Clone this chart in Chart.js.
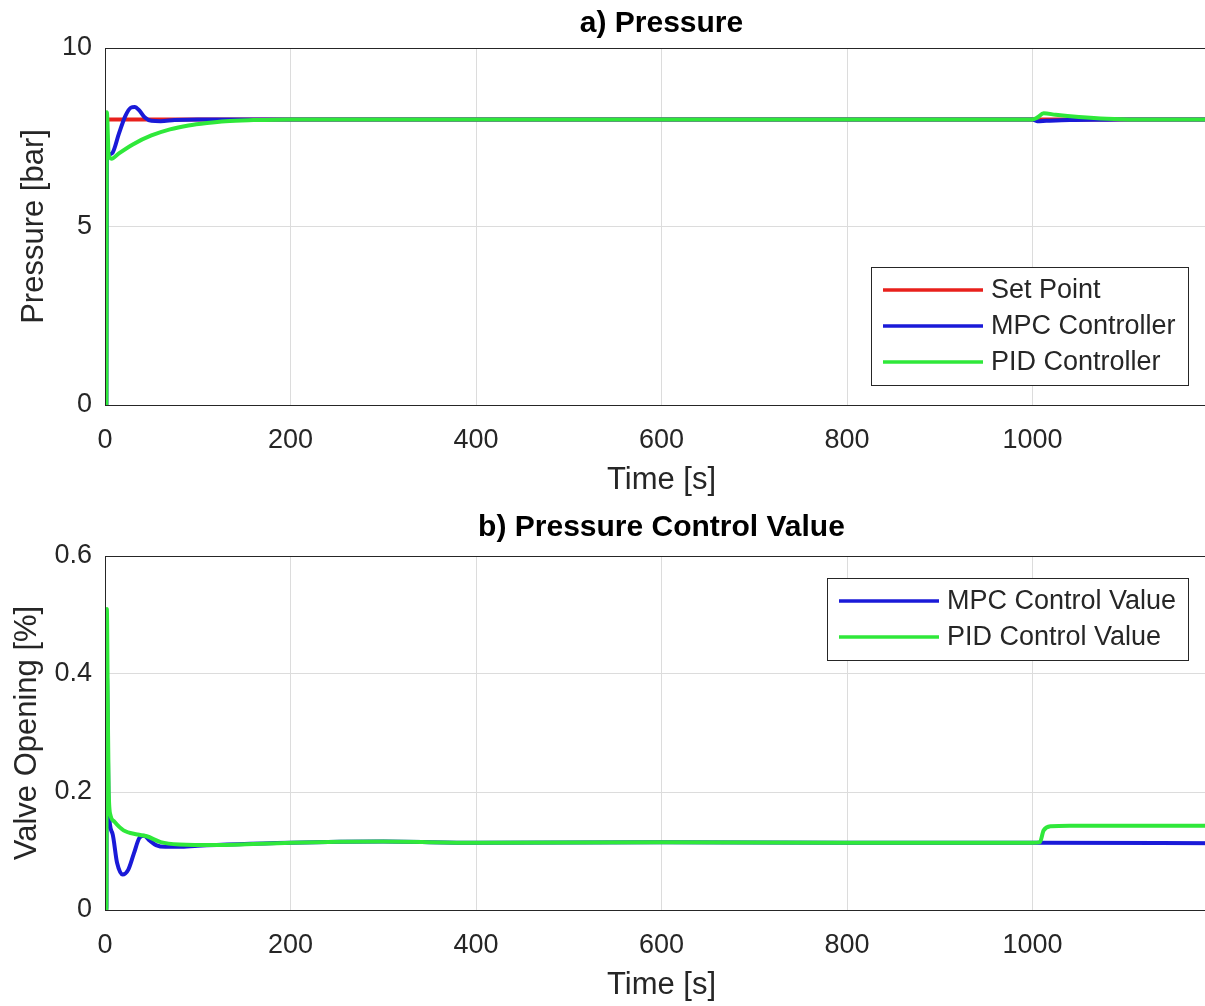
<!DOCTYPE html>
<html>
<head>
<meta charset="utf-8">
<title>Pressure control</title>
<script src="https://cdn.jsdelivr.net/npm/chart.js@4.4.0/dist/chart.umd.min.js"></script>
<style>
  html, body { margin: 0; padding: 0; background: #fff; overflow: hidden; }
  canvas { display: block; }
</style>
</head>
<body>
<canvas id="pressureChart" width="1230" height="506"></canvas>
<canvas id="valveChart" width="1230" height="500"></canvas>
<script>
// time axis (the 1200 end of the axis is cut off in the figure)
const timeTicks = [0, 200, 400, 600, 800, 1000];

// a) pressure [bar]
const setPointT = [0, 1200];
const setPointP = [8, 8];
const mpcPressureT = [0, 1.5, 2, 4, 8, 15, 22, 28, 32, 37, 43, 50, 60, 75, 100, 1000, 1005, 1015, 1040, 1080, 1120, 1200];
const mpcPressureP = [0, 0, 7.0, 7.02, 7.06, 7.6, 8.1, 8.33, 8.35, 8.25, 8.05, 7.96, 7.95, 7.98, 8.0, 8.0, 7.95, 7.96, 7.98, 7.99, 8.0, 8.0];
const pidPressureT = [0, 1.5, 2, 4, 7, 15, 30, 50, 70, 90, 110, 130, 160, 200, 1000, 1005, 1012, 1025, 1050, 1080, 1110, 1200];
const pidPressureP = [0, 0, 8.2, 7.0, 6.9, 7.05, 7.3, 7.55, 7.72, 7.83, 7.9, 7.95, 7.98, 8.0, 8.0, 8.05, 8.17, 8.13, 8.07, 8.02, 8.0, 8.0];

// b) valve opening
const mpcValveT = [0, 1.5, 2, 4, 8, 13, 19, 25, 31, 37, 42, 48, 55, 65, 80, 100, 200, 300, 400, 600, 800, 1000, 1200];
const mpcValveV = [0, 0, 0.4, 0.17, 0.13, 0.08, 0.06, 0.068, 0.095, 0.122, 0.126, 0.118, 0.11, 0.107, 0.107, 0.109, 0.114, 0.116, 0.114, 0.115, 0.114, 0.114, 0.113];
const pidValveT = [0, 1.5, 2, 3, 4, 6, 10, 20, 35, 45, 60, 80, 120, 200, 300, 400, 600, 800, 1000, 1008, 1012, 1020, 1040, 1200];
const pidValveV = [0, 0, 0.51, 0.35, 0.2, 0.16, 0.15, 0.135, 0.128, 0.125, 0.115, 0.111, 0.11, 0.114, 0.116, 0.114, 0.115, 0.114, 0.114, 0.115, 0.135, 0.142, 0.143, 0.143];

const FONT = '"Liberation Sans", Arial, Helvetica, sans-serif';
const INK = "#262626";
const RED = "#e8201c";
const BLUE = "#1a1ad8";
const GREEN = "#2fe83a";

Chart.defaults.font.family = FONT;
Chart.defaults.color = INK;

const pts = (t, v) => t.map((x, i) => ({ x, y: v[i] }));

// box around the axes and a MATLAB-style legend inside the plot
const frameAndLegend = {
  id: "frameAndLegend",
  afterDatasetsDraw(chart, args, opts) {
    const { ctx, chartArea: a } = chart;
    ctx.save();
    ctx.strokeStyle = INK;
    ctx.lineWidth = 1;
    ctx.strokeRect(a.left + 0.5, a.top + 0.5, a.right - a.left, a.bottom - a.top);

    ctx.font = "27px " + FONT;
    const items = chart.data.datasets;
    const textW = Math.max(...items.map((d) => ctx.measureText(d.label).width));
    const w = Math.round(12 + 100 + 8 + textW + 12);
    const h = 10 + items.length * 36;
    const x = Math.round(a.right - opts.right - w);
    const y = Math.round(a.top + opts.top);
    ctx.fillStyle = "#fff";
    ctx.fillRect(x, y, w, h);
    ctx.strokeStyle = INK;
    ctx.strokeRect(x + 0.5, y + 0.5, w, h);
    items.forEach((d, i) => {
      const cy = y + 5 + 18 + i * 36;
      ctx.strokeStyle = d.borderColor;
      ctx.lineWidth = 3.5;
      ctx.beginPath();
      ctx.moveTo(x + 12, cy);
      ctx.lineTo(x + 112, cy);
      ctx.stroke();
      ctx.fillStyle = INK;
      ctx.textBaseline = "middle";
      ctx.fillText(d.label, x + 120, cy + 1);
    });
    ctx.restore();
  },
};

function line(label, data, color, order) {
  return {
    label,
    data,
    borderColor: color,
    backgroundColor: color,
    borderWidth: 4,
    pointRadius: 0,
    cubicInterpolationMode: "monotone",
    order,
  };
}

function makeChart(id, cfg) {
  return new Chart(document.getElementById(id), {
    type: "line",
    data: { datasets: cfg.datasets },
    plugins: [frameAndLegend],
    options: {
      responsive: false,
      animation: false,
      layout: { padding: { left: 0, right: 12, top: 0, bottom: 0 } },
      plugins: {
        legend: { display: false },
        tooltip: { enabled: false },
        title: {
          display: true,
          fullSize: false,
          text: cfg.title,
          color: "#000",
          font: { size: 30, weight: "bold" },
          padding: cfg.titlePad,
        },
        frameAndLegend: cfg.legend,
      },
      scales: {
        x: {
          type: "linear",
          min: 0,
          max: 1200,
          afterBuildTicks: (s) => { s.ticks = timeTicks.map((v) => ({ value: v })); },
          afterFit: (s) => { s.height = cfg.xHeight; s.paddingLeft = 0; s.paddingRight = 0; },
          ticks: { font: { size: 27 }, padding: 19, maxRotation: 0, callback: (v) => String(v) },
          grid: { color: "#dcdcdc", drawTicks: false },
          border: { display: true, color: INK },
          title: { display: true, text: "Time [s]", font: { size: 31 }, padding: { top: 0, bottom: cfg.xTitlePad } },
        },
        y: {
          min: 0,
          max: cfg.yMax,
          afterBuildTicks: (s) => { s.ticks = cfg.yTicks.map((v) => ({ value: v })); },
          afterFit: (s) => { s.width = 105; },
          ticks: { font: { size: 27 }, padding: 13, callback: (v) => String(+v.toFixed(1)) },
          grid: { color: "#dcdcdc", drawTicks: false },
          border: { display: true, color: INK },
          title: { display: true, text: cfg.yTitle, font: { size: 31 }, padding: { top: cfg.yTitlePad, bottom: 0 } },
        },
      },
    },
  });
}

makeChart("pressureChart", {
  title: "a) Pressure",
  titlePad: { top: 6, bottom: 6 },
  yTitle: "Pressure [bar]",
  yTitlePad: 16,
  yMax: 10,
  yTicks: [0, 5, 10],
  xHeight: 101,
  xTitlePad: 7,
  legend: { right: 30, top: 219 },
  datasets: [
    line("Set Point", pts(setPointT, setPointP), RED, 2),
    line("MPC Controller", pts(mpcPressureT, mpcPressureP), BLUE, 1),
    line("PID Controller", pts(pidPressureT, pidPressureP), GREEN, 0),
  ],
});

makeChart("valveChart", {
  title: "b) Pressure Control Value",
  titlePad: { top: 4, bottom: 10 },
  yTitle: "Valve Opening [%]",
  yTitlePad: 9,
  yMax: 0.6,
  yTicks: [0, 0.2, 0.4, 0.6],
  xHeight: 96,
  xTitlePad: 2,
  legend: { right: 30, top: 22 },
  datasets: [
    line("MPC Control Value", pts(mpcValveT, mpcValveV), BLUE, 1),
    line("PID Control Value", pts(pidValveT, pidValveV), GREEN, 0),
  ],
});
</script>
</body>
</html>
